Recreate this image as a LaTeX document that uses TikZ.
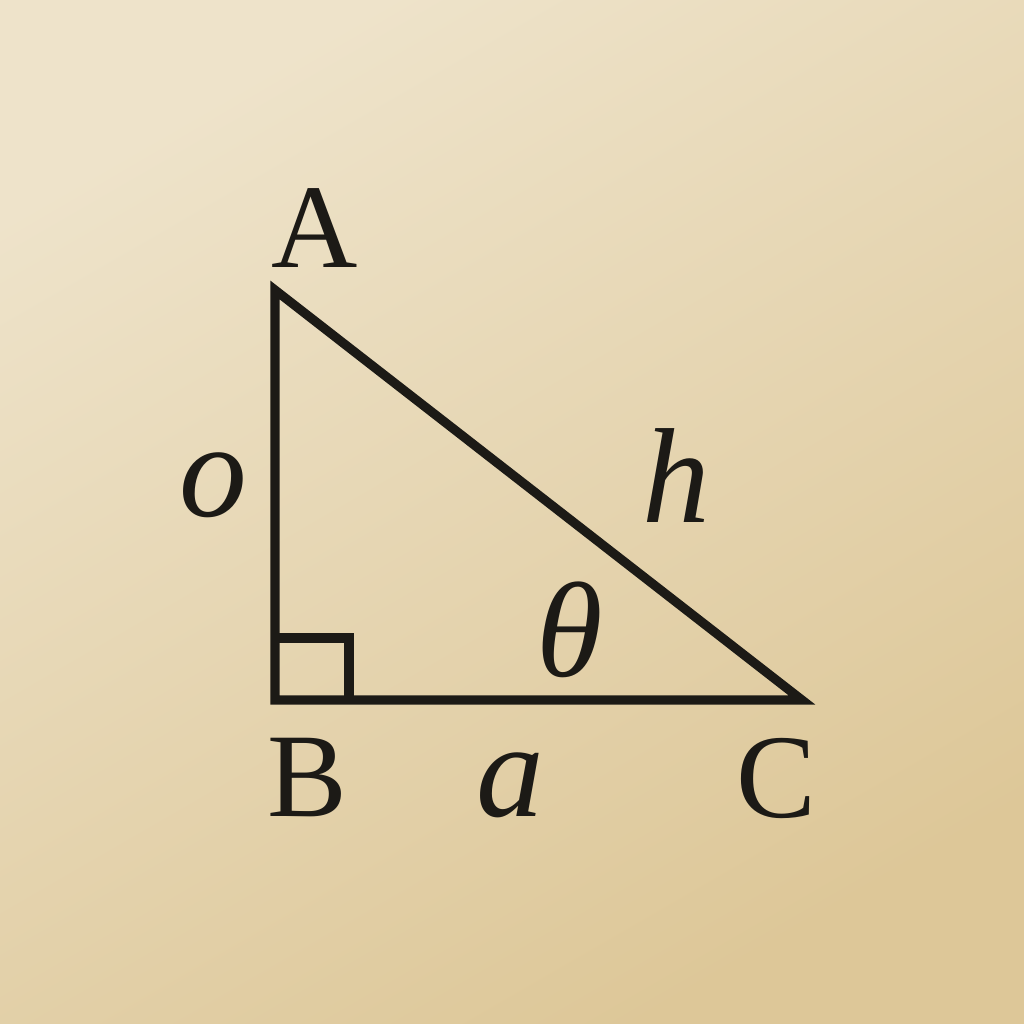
\documentclass[tikz,border=0pt]{standalone}
\usepackage{fontspec}
\setmainfont{Liberation Serif}
\definecolor{bgtop}{RGB}{238,227,202}
\definecolor{bgbot}{RGB}{221,199,152}
\definecolor{ink}{RGB}{28,26,22}
\begin{document}
\begin{tikzpicture}[x=0.01cm,y=-0.01cm,
  capl/.style={text=ink,font=\fontsize{34}{40}\selectfont,inner sep=0pt},
  mathl/.style={text=ink,font=\fontsize{38.5}{44}\selectfont\itshape,inner sep=0pt},
  side/.style={draw=ink,line width=2.6pt,line join=miter}]
\shade[shading=axis,top color=bgtop,bottom color=bgbot,shading angle=30] (0,0) rectangle (1024,1024);
\useasboundingbox (0,0) rectangle (1024,1024);
\coordinate (A) at (275,290);
\coordinate (B) at (275,700);
\coordinate (C) at (802,700);
\draw[side] (A) -- (B) -- (C) -- cycle;
\coordinate (R1) at (349,700);
\coordinate (R2) at (349,638);
\coordinate (R3) at (275,638);
\draw[side] (R1) -- (R2) -- (R3);
\node[capl] (lA) at (315,228) {A};
\node[capl] (lB) at (307,778) {B};
\node[capl] (lC) at (776,778) {C};
\node[mathl] (lo) at (213,485) {o};
\node[mathl] (lh) at (676,476) {h};
\node[mathl] (lt) at (570,630) {θ};
\node[mathl] (la) at (510,785) {a};
\end{tikzpicture}
\end{document}
